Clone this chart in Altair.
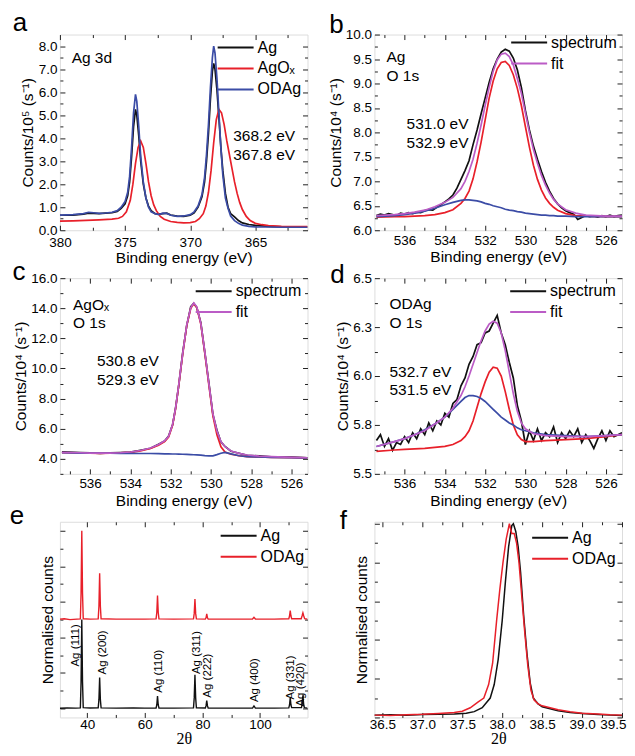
import altair as alt
import pandas as pd

FONT = "Liberation Sans"
BLACK = "#111111"
RED = "#e8202a"
BLUE = "#3b4ca6"
PURPLE = "#bb5cc6"

# ---------------- panel a : Ag 3d ----------------
a_x = [380, 379, 378.2, 377.8, 377.4, 377.0, 376.5, 376.0, 375.6, 375.3, 375.0, 374.8, 374.65, 374.5, 374.35, 374.2,
       374.1, 373.95, 373.8, 373.6, 373.4, 373.2, 373.0, 372.7, 372.4, 372.1, 371.8, 371.5, 371.0, 370.5, 370.0, 369.7,
       369.4, 369.1, 368.9, 368.75, 368.6, 368.45, 368.3, 368.2, 368.1, 367.95, 367.8, 367.65, 367.5, 367.3, 367.1, 366.9,
       366.6, 366.3, 366.0, 365.5, 365.0, 364.0, 363.0, 362.0, 361.0]
a_ag_y = [0.65, 0.66, 0.70, 0.74, 0.73, 0.72, 0.74, 0.76, 0.82, 0.95, 1.15, 1.5, 2.1, 3.2, 4.5, 5.25,
          5.0, 4.1, 3.0, 2.0, 1.4, 1.05, 0.85, 0.72, 0.70, 0.72, 0.74, 0.66, 0.61, 0.60, 0.65, 0.75,
          1.0, 1.45, 2.1, 3.0, 4.2, 5.7, 6.9, 7.25, 7.0, 6.1, 4.9, 3.6, 2.6, 1.6, 1.0, 0.72,
          0.58, 0.42, 0.32, 0.25, 0.21, 0.17, 0.15, 0.14, 0.14]
a_od_y = [0.66, 0.68, 0.72, 0.78, 0.76, 0.73, 0.75, 0.78, 0.85, 1.0, 1.25, 1.65, 2.35, 3.6, 5.1, 5.9,
          5.6, 4.5, 3.2, 2.1, 1.4, 1.0, 0.8, 0.72, 0.68, 0.74, 0.73, 0.65, 0.60, 0.62, 0.68, 0.80,
          1.05, 1.55, 2.3, 3.3, 4.6, 6.2, 7.5, 8.0, 7.7, 6.6, 5.1, 3.6, 2.4, 1.4, 0.95, 0.62,
          0.42, 0.30, 0.22, 0.17, 0.15, 0.14, 0.13, 0.13, 0.13]
a_ox_x = [380, 379, 378, 377, 376, 375.5, 375.2, 374.9, 374.6, 374.4, 374.2, 374.0, 373.8, 373.6, 373.4,
          373.2, 373.0, 372.8, 372.6, 372.3, 372.0, 371.5, 371.0, 370.5, 370.0, 369.6, 369.3, 369.0, 368.8, 368.6,
          368.4, 368.2, 368.0, 367.8, 367.6, 367.4, 367.2, 367.0, 366.8, 366.6, 366.4, 366.2, 366.0, 365.7, 365.4,
          365.0, 364.5, 364.0, 363.0, 362.0, 361.0]
a_ox_y = [0.40, 0.41, 0.43, 0.45, 0.48, 0.52, 0.6, 0.8, 1.3, 2.0, 2.9, 3.6, 3.88, 3.6, 2.9,
          2.1, 1.5, 1.1, 0.85, 0.6, 0.48, 0.38, 0.34, 0.32, 0.33, 0.38, 0.5, 0.72, 1.05, 1.65,
          2.6, 3.8, 4.8, 5.25, 5.1, 4.6, 3.9, 3.3, 2.7, 2.1, 1.6, 1.2, 0.9, 0.6, 0.42,
          0.3, 0.24, 0.2, 0.17, 0.16, 0.16]
a_text = ["Ag 3d", "368.2 eV", "367.8 eV"]
a_text_x = [379.1, 366.7, 366.7]
a_text_y = [7.5, 4.08, 3.27]

# ---------------- O 1s grids ----------------
o1s_x = [537.4, 537.2, 537.0, 536.8, 536.6, 536.4, 536.2, 536.0, 535.8, 535.6,
         535.4, 535.2, 535.0, 534.8, 534.6, 534.4, 534.2, 534.0, 533.8, 533.6,
         533.4, 533.2, 533.0, 532.8, 532.6, 532.4, 532.2, 532.0, 531.8, 531.6,
         531.4, 531.2, 531.0, 530.8, 530.6, 530.4, 530.2, 530.0, 529.8, 529.6,
         529.4, 529.2, 529.0, 528.8, 528.6, 528.4, 528.2, 528.0, 527.8, 527.6,
         527.4, 527.2, 527.0, 526.8, 526.6, 526.4, 526.2, 526.0, 525.8, 525.6,
         525.4, 525.2]

# ---------------- panel b : Ag O 1s ----------------
b_spec_y = [6.30, 6.33, 6.31, 6.34, 6.32, 6.30, 6.35, 6.33, 6.36, 6.34,
            6.37, 6.36, 6.40, 6.42, 6.41, 6.47, 6.52, 6.58, 6.64, 6.72,
            6.86, 7.04, 7.22, 7.42, 7.75, 8.05, 8.38, 8.70, 9.02, 9.30,
            9.50, 9.64, 9.70, 9.66, 9.52, 9.28, 8.92, 8.45, 8.05, 7.72,
            7.45, 7.20, 6.98, 6.80, 6.65, 6.54, 6.46, 6.40, 6.36, 6.33,
            6.22, 6.26, 6.30, 6.28, 6.29, 6.27, 6.30, 6.28, 6.31, 6.28,
            6.30, 6.31]
b_comp_x = [537.4, 536.5, 536.0, 535.5, 535.0, 534.5, 534.0, 533.6, 533.2, 533.0,
            532.8, 532.6, 532.4, 532.2, 532.0, 531.8, 531.6, 531.4, 531.2, 531.0,
            530.8, 530.6, 530.4, 530.2, 530.0, 529.8, 529.6, 529.4, 529.2, 529.0,
            528.8, 528.6, 528.4, 528.0, 527.5, 527.0, 526.0, 525.2]
b_fit_y = [6.30, 6.32, 6.34, 6.37, 6.41, 6.48, 6.57, 6.67, 6.85, 7.0,
           7.2, 7.45, 7.78, 8.15, 8.55, 8.92, 9.25, 9.48, 9.6, 9.62,
           9.55, 9.38, 9.1, 8.8, 8.4, 8.0, 7.65, 7.37, 7.12, 6.92,
           6.76, 6.63, 6.54, 6.42, 6.35, 6.31, 6.29, 6.29]
b_red_y = [6.27, 6.28, 6.28, 6.29, 6.30, 6.32, 6.36, 6.42, 6.55, 6.65,
           6.80, 7.05, 7.40, 7.80, 8.25, 8.70, 9.05, 9.30, 9.43, 9.45,
           9.37, 9.18, 8.90, 8.55, 8.12, 7.70, 7.33, 7.04, 6.82, 6.66,
           6.55, 6.47, 6.41, 6.34, 6.30, 6.29, 6.28, 6.28]
b_blue_y = [6.28, 6.30, 6.32, 6.35, 6.39, 6.45, 6.52, 6.57, 6.61, 6.62,
            6.62, 6.61, 6.60, 6.58, 6.55, 6.53, 6.50, 6.48, 6.46, 6.43,
            6.41, 6.40, 6.38, 6.37, 6.35, 6.34, 6.33, 6.32, 6.31, 6.31,
            6.30, 6.30, 6.29, 6.29, 6.28, 6.28, 6.28, 6.28]
b_text = ["Ag", "O 1s", "531.0 eV", "532.9 eV"]
b_text_x = [536.9, 536.9, 535.9, 535.9]
b_text_y = [9.55, 9.15, 8.17, 7.79]

# ---------------- panel c : AgOx O 1s ----------------
c_x = [537.4, 536.5, 536.0, 535.5, 535.0, 534.5, 534.0, 533.5, 533.0, 532.6,
       532.3, 532.1, 531.9, 531.75, 531.6, 531.4, 531.2, 531.0, 530.85, 530.7,
       530.5, 530.3, 530.1, 529.9, 529.7, 529.5, 529.3, 529.0, 528.6, 528.2,
       527.6, 527.0, 526.0, 525.2]
c_spec_y = [4.46, 4.41, 4.39, 4.36, 4.39, 4.41, 4.44, 4.57, 4.70, 4.97,
            5.18, 5.52, 6.28, 7.42, 8.85, 11.05, 12.85, 14.1, 14.32, 14.05,
            13.05, 11.05, 9.05, 6.95, 5.9, 5.12, 4.82, 4.50, 4.37, 4.23,
            4.19, 4.13, 4.11, 4.06]
c_fit_y = [4.42, 4.40, 4.38, 4.37, 4.38, 4.40, 4.45, 4.55, 4.72, 4.95,
           5.2, 5.5, 6.3, 7.4, 8.9, 11.0, 12.9, 14.05, 14.35, 14.1,
           13.0, 11.1, 9.0, 7.0, 5.85, 5.15, 4.8, 4.52, 4.36, 4.25,
           4.18, 4.14, 4.10, 4.07]
c_red_y = [4.40, 4.39, 4.37, 4.36, 4.37, 4.39, 4.43, 4.52, 4.68, 4.9,
           5.15, 5.45, 6.25, 7.35, 8.85, 10.95, 12.85, 14.0, 14.3, 14.05,
           12.95, 11.0, 8.9, 6.85, 5.6, 4.8, 4.45, 4.3, 4.2, 4.15,
           4.12, 4.1, 4.08, 4.06]
c_blue_y = [4.40, 4.38, 4.38, 4.37, 4.37, 4.36, 4.36, 4.35, 4.35, 4.34,
            4.33, 4.33, 4.32, 4.32, 4.31, 4.30, 4.29, 4.28, 4.27, 4.26,
            4.24, 4.21, 4.19, 4.20, 4.28, 4.37, 4.42, 4.33, 4.20, 4.14,
            4.12, 4.10, 4.08, 4.06]
c_text = ["AgOₓ", "O 1s", "530.8 eV", "529.3 eV"]
c_text_x = [536.85, 536.85, 535.66, 535.66]
c_text_y = [14.2, 13.0, 10.5, 9.23]

# ---------------- panel d : ODAg O 1s ----------------
d_spec_y = [5.67, 5.70, 5.64, 5.68, 5.62, 5.66, 5.65, 5.69, 5.66, 5.71,
            5.68, 5.73, 5.70, 5.76, 5.72, 5.77, 5.75, 5.81, 5.79, 5.86,
            5.88, 5.95, 5.99, 6.06, 6.10, 6.16, 6.17, 6.22, 6.23, 6.27,
            6.31, 6.22, 6.16, 6.07, 5.99, 5.85, 5.77, 5.65, 5.72, 5.67,
            5.73, 5.67, 5.71, 5.69, 5.74, 5.66, 5.71, 5.68, 5.72, 5.69,
            5.73, 5.66, 5.70, 5.67, 5.63, 5.68, 5.72, 5.67, 5.72, 5.69,
            5.70, 5.71]
d_comp_x = [537.4, 536.5, 536.0, 535.5, 535.0, 534.5, 534.0, 533.6, 533.2, 533.0,
            532.8, 532.6, 532.4, 532.2, 532.0, 531.8, 531.6, 531.4, 531.2, 531.0,
            530.8, 530.6, 530.4, 530.2, 530.0, 529.6, 529.0, 528.0, 527.0, 526.0,
            525.2]
d_fit_y = [5.64, 5.665, 5.68, 5.70, 5.72, 5.755, 5.79, 5.835, 5.90, 5.945,
           6.0, 6.06, 6.12, 6.18, 6.23, 6.265, 6.28, 6.27, 6.22, 6.13,
           6.02, 5.91, 5.82, 5.76, 5.73, 5.705, 5.695, 5.69, 5.69, 5.695,
           5.70]
d_red_y = [5.615, 5.622, 5.625, 5.628, 5.63, 5.635, 5.64, 5.65, 5.67, 5.69,
           5.72, 5.77, 5.84, 5.91, 5.97, 6.02, 6.045, 6.04, 6.0, 5.92,
           5.83, 5.75, 5.70, 5.675, 5.665, 5.665, 5.67, 5.675, 5.68, 5.69,
           5.70]
d_blue_y = [5.64, 5.665, 5.68, 5.70, 5.725, 5.755, 5.79, 5.83, 5.87, 5.89,
            5.90, 5.90, 5.895, 5.885, 5.87, 5.85, 5.83, 5.81, 5.79, 5.775,
            5.76, 5.75, 5.735, 5.725, 5.72, 5.71, 5.70, 5.695, 5.69, 5.695,
            5.70]
d_text = ["ODAg", "O 1s", "532.7 eV", "531.5 eV"]
d_text_x = [536.75, 536.75, 536.75, 536.75]
d_text_y = [6.37, 6.27, 6.02, 5.93]

# ---------------- panel e : XRD ----------------
e_ag_x = [30.5, 33, 36, 37.6, 37.85, 38.1, 38.35, 38.6, 41, 43.8, 44.05, 44.3, 44.55, 44.8, 50, 56, 60,
          63.9, 64.15, 64.4, 64.65, 64.9, 70, 76.9, 77.15, 77.4, 77.65, 77.9, 81.0, 81.25, 81.5, 81.75, 82.0,
          90, 97.4, 97.9, 98.4, 105, 110.0, 110.25, 110.5, 110.75, 111.0, 114.4, 114.65, 114.9, 115.15, 115.4, 116.5]
e_ag_y = [0.004, 0.006, 0.005, 0.008, 0.3, 1.0, 0.3, 0.01, 0.006, 0.008, 0.1, 0.35, 0.1, 0.008, 0.005, 0.006, 0.005,
          0.006, 0.04, 0.14, 0.04, 0.006, 0.005, 0.008, 0.12, 0.38, 0.12, 0.008, 0.006, 0.03, 0.09, 0.03, 0.006,
          0.005, 0.006, 0.03, 0.006, 0.005, 0.008, 0.04, 0.12, 0.04, 0.01, 0.01, 0.05, 0.15, 0.05, 0.01, 0.005]
e_od_x = [30.5, 32, 34, 37.6, 37.85, 38.1, 38.35, 38.6, 41, 43.8, 44.05, 44.3, 44.55, 44.8, 50, 56, 60,
          63.9, 64.15, 64.4, 64.65, 64.9, 70, 76.9, 77.15, 77.4, 77.65, 77.9, 81.0, 81.25, 81.5, 81.75, 82.0,
          90, 97.4, 97.9, 98.4, 105, 110.0, 110.25, 110.5, 110.75, 111.0, 114.3, 114.6, 114.9, 115.2, 115.5, 116.5]
e_od_y = [1.005, 1.01, 1.0, 1.008, 1.3, 2.0, 1.3, 1.01, 1.005, 1.008, 1.15, 1.52, 1.15, 1.01, 1.005, 1.006, 1.005,
          1.008, 1.08, 1.27, 1.08, 1.008, 1.005, 1.008, 1.07, 1.23, 1.07, 1.008, 1.006, 1.02, 1.065, 1.02, 1.006,
          1.005, 1.006, 1.025, 1.006, 1.005, 1.01, 1.04, 1.1, 1.04, 1.01, 1.01, 1.04, 1.075, 1.04, 1.01, 1.005]
e_lab = ["Ag (111)", "Ag (200)", "Ag (110)", "Ag (311)", "Ag (222)", "Ag (400)", "Ag (331)", "Ag (420)"]
e_lab_x = [36.0, 45.4, 64.8, 78.0, 81.8, 98.1, 110.6, 114.4]
e_lab_y = [0.71, 0.63, 0.42, 0.63, 0.37, 0.32, 0.35, 0.27]

# ---------------- panel f : XRD (111) ----------------
f_ag_x = [36.4, 36.6, 36.8, 37.0, 37.2, 37.4, 37.55, 37.65, 37.75, 37.85, 37.9, 37.95, 38.0, 38.04, 38.08, 38.12,
          38.14, 38.17, 38.2, 38.23, 38.27, 38.31, 38.35, 38.39, 38.45, 38.5, 38.6, 38.7, 38.85, 39.0, 39.2, 39.35, 39.5]
f_ag_y = [0.012, 0.014, 0.012, 0.015, 0.016, 0.018, 0.022, 0.03, 0.05, 0.1, 0.17, 0.3, 0.5, 0.7, 0.88, 0.99,
          1.0, 0.96, 0.88, 0.75, 0.52, 0.33, 0.18, 0.1, 0.07, 0.055, 0.045, 0.035, 0.025, 0.02, 0.015, 0.012, 0.01]
f_od_x = [36.4, 36.6, 36.8, 37.0, 37.2, 37.4, 37.5, 37.6, 37.7, 37.77, 37.83, 37.88, 37.93, 37.97, 38.01, 38.05,
          38.09, 38.12, 38.15, 38.18, 38.21, 38.25, 38.28, 38.32, 38.36, 38.4, 38.45, 38.5, 38.6, 38.7, 38.85,
          39.0, 39.2, 39.35, 39.5]
f_od_y = [0.012, 0.01, 0.014, 0.016, 0.02, 0.025, 0.032, 0.05, 0.08, 0.1, 0.17, 0.28, 0.5, 0.66, 0.8, 0.92,
          1.0, 0.95, 0.95, 0.9, 0.8, 0.6, 0.45, 0.27, 0.14, 0.09, 0.07, 0.06, 0.05, 0.04, 0.03,
          0.022, 0.018, 0.014, 0.012]


def lines_df(series):
    rows = []
    for name, xs, ys in series:
        assert len(xs) == len(ys), name
        for k, (x, y) in enumerate(zip(xs, ys)):
            rows.append({"x": x, "y": y, "s": name, "k": k})
    return pd.DataFrame(rows)


def axis(orient, values, size, fmt=None, labels=False, title=None, tfont=FONT, tsize=15.5, tpad=3, lpad=3,
         flush=False):
    kw = dict(orient=orient, values=values, tickSize=size, offset=-size, domain=False, grid=False,
              labels=labels, tickColor="#222222", tickWidth=1, minExtent=0)
    if labels:
        kw.update(format=fmt, labelFont=FONT, labelFontSize=13.5, labelColor="black", labelPadding=lpad,
                  labelFlush=flush, labelOverlap=False)
        if flush:
            kw.update(labelFlushOffset=4)
    else:
        kw.update(maxExtent=0)
    if title:
        kw.update(title=title, titleFont=tfont, titleFontSize=tsize, titleFontWeight="normal",
                  titleColor="black", titlePadding=tpad)
    else:
        kw.update(title=None)
    return alt.Axis(**kw)


def panel(letter, lpos, series, cdom, crange, legend, xdom, xrev, xmaj, xmin, xfmt, xtitle, xtfont, xtsize,
          ydom, ymaj, ymin, yfmt, ytitle, ylabels, ytpad, texts, h, lw=1.7, rotated=None, xlpad=3, xtpad=3,
          flush=False):
    df = lines_df(series)
    corners = pd.DataFrame({"x": xdom, "y": ydom})
    xs = alt.Scale(domain=xdom, reverse=xrev, nice=False, zero=False)
    ys = alt.Scale(domain=ydom, nice=False, zero=False)
    layers = []
    layers.append(alt.Chart(corners).mark_line(opacity=0, strokeWidth=0).encode(
        x=alt.X("x:Q", scale=xs, axis=axis("bottom", xmin, 3)),
        y=alt.Y("y:Q", scale=ys, axis=axis("left", ymin, 3))))
    layers.append(alt.Chart(corners).mark_line(opacity=0, strokeWidth=0).encode(
        x=alt.X("x:Q", scale=xs, axis=axis("top", xmaj, 5)),
        y=alt.Y("y:Q", scale=ys, axis=axis("right", ymaj, 5))))
    layers.append(alt.Chart(corners).mark_line(opacity=0, strokeWidth=0).encode(
        x=alt.X("x:Q", scale=xs, axis=axis("top", xmin, 3)),
        y=alt.Y("y:Q", scale=ys, axis=axis("right", ymin, 3))))
    layers.append(alt.Chart(df).mark_line(strokeWidth=lw, clip=True).encode(
        x=alt.X("x:Q", scale=xs, axis=axis("bottom", xmaj, 5, xfmt, True, xtitle, xtfont, xtsize, xtpad, xlpad,
                                            flush)),
        y=alt.Y("y:Q", scale=ys, axis=axis("left", ymaj, 5, yfmt, ylabels, ytitle, FONT, 15.5, ytpad, 3)),
        color=alt.Color("s:N", scale=alt.Scale(domain=cdom, range=crange), legend=legend),
        order=alt.Order("k:Q")))
    if texts is not None:
        tdf = pd.DataFrame({"t": texts[0], "x": texts[1], "y": texts[2]})
        layers.append(alt.Chart(tdf).mark_text(align="left", baseline="middle", font=FONT, fontSize=15.5,
                                               color="black").encode(
            x=alt.X("x:Q", scale=xs, axis=None), y=alt.Y("y:Q", scale=ys, axis=None), text="t:N"))
    if rotated is not None:
        rdf = pd.DataFrame({"t": rotated[0], "x": rotated[1], "y": rotated[2]})
        layers.append(alt.Chart(rdf).mark_text(align="center", baseline="middle", angle=270, font=FONT,
                                               fontSize=11.5, color="black").encode(
            x=alt.X("x:Q", scale=xs, axis=None), y=alt.Y("y:Q", scale=ys, axis=None), text="t:N"))
    layers.append(alt.Chart(pd.DataFrame({"t": [letter]})).mark_text(
        align="center", baseline="top", font=FONT, fontSize=26, color="black").encode(
        text="t:N", x=alt.value(lpos[0]), y=alt.value(lpos[1])))
    return alt.layer(*layers).resolve_axis(x="independent", y="independent").properties(width=248, height=h)


def leg(lx, ly, values=None):
    kw = dict(title=None, orient="none", legendX=lx, legendY=ly, symbolType="M-2,0H2", symbolSize=324,
              symbolStrokeWidth=2, labelFont=FONT, labelFontSize=16, labelColor="black", padding=0,
              rowPadding=3, labelOffset=12, labelLimit=0)
    if values is not None:
        kw["values"] = values
    return alt.Legend(**kw)


BE = "Binding energy (eV)"
C4 = "Counts/10⁴ (s⁻¹)"
H = 196

pa = panel("a", (-40, -24.5),
           [("Ag", a_x, a_ag_y), ("AgOₓ", a_ox_x, a_ox_y), ("ODAg", a_x, a_od_y)],
           ["Ag", "AgOₓ", "ODAg"], [BLACK, RED, BLUE], leg(166, 3),
           [361, 380], True, [380, 375, 370, 365], [377.5, 372.5, 367.5, 362.5], "d", BE, FONT, 15.5,
           [0, 8.5], [0, 1, 2, 3, 4, 5, 6, 7, 8], [0.5, 1.5, 2.5, 3.5, 4.5, 5.5, 6.5, 7.5], ".1f",
           "Counts/10⁵ (s⁻¹)", True, 3, (a_text, a_text_x, a_text_y), H, xlpad=5, xtpad=2)

pb = panel("b", (-38, -22.5),
           [("spectrum", o1s_x, b_spec_y), ("red", b_comp_x, b_red_y), ("blue", b_comp_x, b_blue_y),
            ("fit", b_comp_x, b_fit_y)],
           ["spectrum", "fit", "red", "blue"], [BLACK, PURPLE, RED, BLUE], leg(145, -2, ["spectrum", "fit"]),
           [525.2, 537.5], True, [536, 534, 532, 530, 528, 526], [537, 535, 533, 531, 529, 527], "d", BE, FONT, 15.5,
           [6.0, 10.0], [6.0, 6.5, 7.0, 7.5, 8.0, 8.5, 9.0, 9.5, 10.0],
           [6.25, 6.75, 7.25, 7.75, 8.25, 8.75, 9.25, 9.75], ".1f", C4, True, 2,
           (b_text, b_text_x, b_text_y), H)

pc = panel("c", (-41, -19.5),
           [("spectrum", c_x, c_spec_y), ("red", c_x, c_red_y), ("blue", c_x, c_blue_y), ("fit", c_x, c_fit_y)],
           ["spectrum", "fit", "red", "blue"], [BLACK, PURPLE, RED, BLUE], leg(144, 3, ["spectrum", "fit"]),
           [525.2, 537.5], True, [536, 534, 532, 530, 528, 526], [537, 535, 533, 531, 529, 527], "d", BE, FONT, 15.5,
           [3.0, 16.0], [4, 6, 8, 10, 12, 14, 16], [3, 5, 7, 9, 11, 13, 15], ".1f", C4, True, 2,
           (c_text, c_text_x, c_text_y), H)

pd_ = panel("d", (-37, -16.5),
            [("spectrum", o1s_x, d_spec_y), ("red", d_comp_x, d_red_y), ("blue", d_comp_x, d_blue_y),
             ("fit", d_comp_x, d_fit_y)],
            ["spectrum", "fit", "red", "blue"], [BLACK, PURPLE, RED, BLUE], leg(144, 3, ["spectrum", "fit"]),
            [525.2, 537.5], True, [536, 534, 532, 530, 528, 526], [537, 535, 533, 531, 529, 527], "d", BE, FONT,
            15.5,
            [5.5, 6.5], [5.5, 5.75, 6.0, 6.25, 6.5], [5.625, 5.875, 6.125, 6.375], ".1f", C4, True, 2,
            (d_text, d_text_x, d_text_y), H)

pe = panel("e", (-43, -18.5),
           [("Ag", e_ag_x, e_ag_y), ("ODAg", e_od_x, e_od_y)],
           ["Ag", "ODAg"], [BLACK, RED], leg(169, 4),
           [30.5, 116.5], False, [40, 60, 80, 100], [50, 70, 90, 110], "d", "2θ", "Liberation Serif", 16,
           [-0.1, 2.1], [0, 0.4, 0.8, 1.2, 1.6, 2.0], [0.2, 0.6, 1.0, 1.4, 1.8], None,
           "Normalised counts", False, 9, None, H, lw=1.4,
           rotated=(e_lab, e_lab_x, e_lab_y), xlpad=0, xtpad=0)

pf = panel("f", (-31, -13.5),
           [("Ag", f_ag_x, f_ag_y), ("ODAg", f_od_x, f_od_y)],
           ["Ag", "ODAg"], [BLACK, RED], leg(166, 6),
           [36.4, 39.5], False, [36.5, 37.0, 37.5, 38.0, 38.5, 39.0, 39.5],
           [36.75, 37.25, 37.75, 38.25, 38.75, 39.25], ".1f", "2θ", "Liberation Serif", 16,
           [0, 1.01], [0, 0.2, 0.4, 0.6, 0.8, 1.0], [0.1, 0.3, 0.5, 0.7, 0.9], None,
           "Normalised counts", False, 10, None, H, lw=1.5, xlpad=0, xtpad=0, flush=True)

chart = alt.concat(pa, pb, pc, pd_, pe, pf, columns=2, spacing=alt.RowColnumber(row=48, column=67),
                   bounds="flush", padding={"left": 1, "top": 1, "right": 0, "bottom": 0}
                   ).resolve_scale(color="independent").resolve_legend(color="independent"
                   ).configure_view(stroke="#222222", strokeWidth=1).configure(font=FONT)

chart.save("out.html", embed_options={"renderer": "svg", "actions": False})
